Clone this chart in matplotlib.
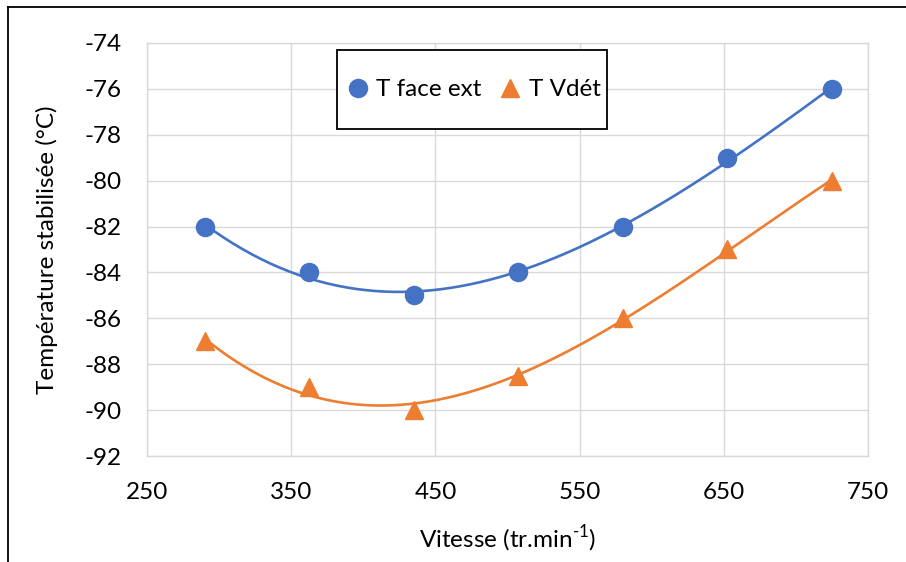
import numpy as np
import matplotlib.pyplot as plt
from matplotlib.lines import Line2D
from matplotlib.patches import Rectangle

plt.rcParams['font.family'] = ['Lato', 'DejaVu Sans']
plt.rcParams['mathtext.fontset'] = 'custom'
plt.rcParams['mathtext.rm'] = 'Lato'
plt.rcParams['axes.unicode_minus'] = False

# vitesse (tr/min) et températures stabilisées
vitesse = [290, 362.5, 435, 507.5, 580, 652.5, 725]
t_face_ext = [-82, -84, -85, -84, -82, -79, -76]
t_vdet = [-87, -89, -90, -88.5, -86, -83, -80]

bleu = '#4472C4'
orange = '#ED7D31'
fs = 17.5

fig = plt.figure(figsize=(9.06, 5.62), dpi=100)
ax = fig.add_axes([0.1623, 0.1886, 0.7958, 0.7349])

# courbes de tendance polynomiales (ordre 3)
xs = np.linspace(vitesse[0], vitesse[-1], 200)
for y, c in [(t_face_ext, bleu), (t_vdet, orange)]:
    p = np.polyfit(vitesse, y, 3)
    ax.plot(xs, np.polyval(p, xs), color=c, lw=1.9, zorder=3)

ax.plot(vitesse, t_face_ext, 'o', color=bleu, ms=13, label='T face ext', zorder=4)
ax.plot(vitesse, t_vdet, '^', color=orange, ms=13, label='T Vdét', zorder=4)

ax.set_xlim(250, 750)
ax.set_ylim(-92, -74)
ax.set_xticks(np.arange(250, 751, 100))
ax.set_yticks(np.arange(-92, -73, 2))
ax.grid(True, color='#d9d9d9', lw=1.0)
ax.set_axisbelow(True)
for s in ax.spines.values():
    s.set_color('#d9d9d9')
    s.set_linewidth(1.0)
ax.tick_params(length=0, labelsize=fs, pad=18.5)

ax.set_xlabel(r'Vitesse (tr.min$^{\text{-1}}$)', fontsize=fs, labelpad=15)
ax.set_ylabel('Température stabilisée (°C)', fontsize=fs, labelpad=19)

# légende avec cadre noir
cadre = Rectangle((337 / 906, 1 - 129 / 562), 270 / 906, 79 / 562,
                  transform=fig.transFigure, facecolor='white',
                  edgecolor='black', lw=1.3, zorder=5, clip_on=False)
ax.add_patch(cadre)
leg = ax.legend(loc='center', bbox_to_anchor=(0.522, 1 - 89.5 / 562),
                bbox_transform=fig.transFigure, ncol=2, fontsize=fs,
                frameon=False, borderpad=0.2,
                handletextpad=0.25, columnspacing=0.7, handlelength=1.0)
leg.set_zorder(6)

# bordure du cadre (haut et gauche)
fig.add_artist(Line2D([0.009, 1.0], [0.9875, 0.9875], color='black', lw=1.3))
fig.add_artist(Line2D([0.009, 0.009], [0.0, 0.9875], color='black', lw=1.3))

fig.savefig('out.png', dpi=100)
